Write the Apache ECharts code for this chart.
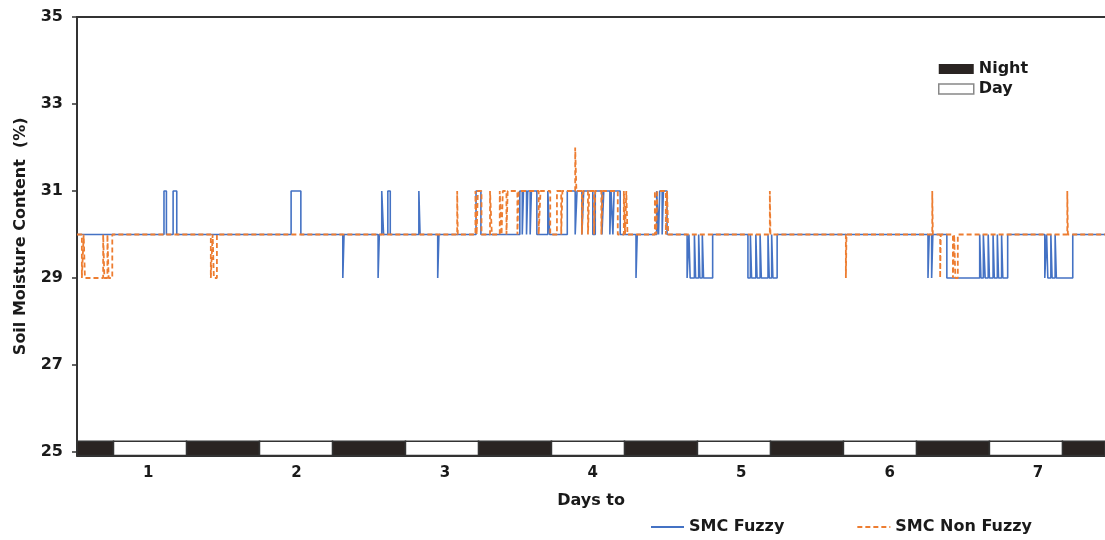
<!DOCTYPE html>
<html>
<head>
<meta charset="utf-8">
<script src="https://cdn.jsdelivr.net/npm/echarts@6/dist/echarts.min.js"></script>
<style>html,body{margin:0;padding:0;background:#fff}#c{width:1105px;height:540px}</style>
</head>
<body>
<div id="c"></div>
<script>
// ---- data (hours from start of day 1; value = soil moisture %) ----
const fuzzyHours = [0,14.3,14.7,15.8,16.4,35.2,36.8,43.7,43.9,49.5,49.7,50.1,50.4,51.1,51.5,56.2,56.4,59.3,59.5,65.6,66.4,
  72.8,73.2,73.4,73.9,74.1,74.5,74.7,75.6,77.4,77.7,
  80.6,81.9,82.2,83.0,83.3,84.8,85.2,86.3,86.6,87.6,87.8,88.1,88.3,89.3,
  91.9,92.1,95.3,95.6,95.8,96.2,96.4,97.0,
  100.3,100.6,100.8,101.5,101.7,102.2,102.4,102.8,103.0,104.5,
  110.3,110.7,110.9,111.6,111.8,112.3,112.5,113.6,113.8,114.2,114.4,115.1,
  139.9,140.1,140.5,140.7,
  143.0,148.4,148.6,149.0,149.3,149.8,150.0,150.6,150.8,151.3,151.5,152.0,152.2,153.0,
  159.1,159.4,159.6,160.1,160.3,160.8,161.0,163.7,169];
const fuzzyValues = [30,31,30,31,30,31,30,29,30,29,30,31,30,31,30,31,30,29,30,31,30,
  31,30,31,30,31,30,31,30,31,30,
  31,30,31,30,31,30,31,30,31,30,31,30,31,30,
  29,30,31,30,31,30,31,30,
  29,30,29,30,29,30,29,30,29,30,
  29,30,29,30,29,30,29,30,29,30,29,30,
  29,30,29,30,
  29,30,29,30,29,30,29,30,29,30,29,30,29,30,
  29,30,29,30,29,30,29,30,30];

const nonFuzzyHours = [0,0.8,1.1,1.3,4.3,4.5,5.0,5.2,5.8,22.0,22.3,22.5,23.0,
  62.5,62.6,65.5,65.7,65.9,66.5,67.9,68.2,
  69.5,69.8,70.0,70.6,70.8,72.4,72.6,75.9,76.2,77.8,
  78.9,79.6,79.8,81.9,82.1,83.0,83.2,84.0,84.2,85.0,85.2,86.2,86.4,88.9,89.9,90.1,90.3,90.5,
  95.0,95.2,95.4,96.8,97.0,97.2,
  113.9,114.0,126.4,126.5,140.6,140.7,141.9,142.0,144.0,144.2,144.4,144.8,162.8,162.9,169];
const nonFuzzyValues = [30,29,30,29,30,29,30,29,30,29,30,29,30,
  31,30,31,30,31,30,31,30,
  31,30,31,30,31,30,31,30,31,30,
  31,30,31,32,31,30,31,30,31,30,31,30,31,30,31,30,31,30,
  31,30,31,30,31,30,
  31,30,29,30,31,30,29,30,29,30,29,30,31,30,30];

const nightSpans = [[0,6],[18,30],[42,54],[66,78],[90,102],[114,126],[138,150],[162,169]];
const daySpans = [[6,18],[30,42],[54,66],[78,90],[102,114],[126,138],[150,162]];

const dayLabels = ['1','2','3','4','5','6','7'];
const dayLabelHours = [11.7,36.1,60.5,84.8,109.2,133.6,158.0];
const yTicks = [25,27,29,31,33,35];

// ---- chart ----
const FONT = 'DejaVu Sans';
const BLUE = '#4472C4', ORANGE = '#ED7D31', NIGHT = '#2a2422';
const pair = (xs, ys) => xs.map((x, i) => [x, ys[i]]);

function stripRender(fill) {
  return function (params, api) {
    const p0 = api.coord([api.value(0), 25.25]);
    const p1 = api.coord([api.value(1), 24.92]);
    return {
      type: 'rect',
      shape: { x: p0[0], y: p0[1], width: p1[0] - p0[0], height: p1[1] - p0[1] },
      style: { fill: fill, stroke: '#333', lineWidth: 1.5 }
    };
  };
}

const chart = echarts.init(document.getElementById('c'), null, { renderer: 'canvas' });
chart.setOption({
  animation: false,
  backgroundColor: '#fff',
  textStyle: { fontFamily: FONT },
  grid: { left: 77, right: 0, top: 17, bottom: 84.5, containLabel: false },
  legend: [
    {
      orient: 'vertical', left: 933, top: 56, itemWidth: 35, itemHeight: 10, itemGap: 4,
      textStyle: { fontFamily: FONT, fontWeight: 'bold', fontSize: 16, color: '#1a1a1a' },
      data: [
        { name: 'Night', icon: 'rect', itemStyle: { color: NIGHT, borderColor: NIGHT } },
        { name: 'Day', icon: 'rect', itemStyle: { color: '#fff', borderColor: '#888', borderWidth: 1.5 } }
      ]
    },
    {
      orient: 'horizontal', left: 645, top: 514, itemWidth: 33, itemHeight: 14, itemGap: 72,
      itemStyle: { opacity: 0 },
      textStyle: { fontFamily: FONT, fontWeight: 'bold', fontSize: 16, color: '#1a1a1a' },
      data: ['SMC Fuzzy', 'SMC Non Fuzzy']
    }
  ],
  xAxis: [
    {
      type: 'value', min: 0, max: 169, position: 'bottom',
      name: 'Days to', nameLocation: 'middle', nameGap: 37,
      nameTextStyle: { fontFamily: FONT, fontWeight: 'bold', fontSize: 16, color: '#1a1a1a' },
      axisLine: { show: true, lineStyle: { color: '#333', width: 2 } },
      axisTick: { show: false },
      splitLine: { show: false },
      axisLabel: {
        customValues: dayLabelHours, margin: 10,
        fontFamily: FONT, fontWeight: 'bold', fontSize: 15, color: '#1a1a1a',
        formatter: function (v) {
          const i = dayLabelHours.findIndex(h => Math.abs(h - v) < 0.01);
          return i >= 0 ? dayLabels[i] : '';
        }
      }
    },
    {
      type: 'value', min: 0, max: 169, position: 'top',
      axisLine: { show: true, onZero: false, lineStyle: { color: '#333', width: 2 } },
      axisTick: { show: false }, axisLabel: { show: false }, splitLine: { show: false }
    }
  ],
  yAxis: {
    type: 'value', min: 24.92, max: 35,
    name: 'Soil Moisture Content  (%)', nameLocation: 'middle', nameGap: 48,
    nameTextStyle: { fontFamily: FONT, fontWeight: 'bold', fontSize: 16, color: '#1a1a1a' },
    axisLine: { show: true, lineStyle: { color: '#333', width: 2 } },
    axisTick: { show: true, customValues: yTicks, length: 5, lineStyle: { color: '#333', width: 1.5 } },
    splitLine: { show: false },
    axisLabel: {
      customValues: yTicks, margin: 14,
      fontFamily: FONT, fontWeight: 'bold', fontSize: 16, color: '#1a1a1a'
    }
  },
  series: [
    {
      name: 'Night', type: 'custom', renderItem: stripRender(NIGHT),
      itemStyle: { color: NIGHT }, encode: { x: [0, 1] }, data: nightSpans, z: 5
    },
    {
      name: 'Day', type: 'custom', renderItem: stripRender('#fff'),
      itemStyle: { color: '#fff' }, encode: { x: [0, 1] }, data: daySpans, z: 5
    },
    {
      name: 'SMC Fuzzy', type: 'line', step: 'end', symbol: 'none', showSymbol: false,
      data: pair(fuzzyHours, fuzzyValues),
      itemStyle: { color: BLUE },
      lineStyle: { color: BLUE, width: 1.6 }, z: 3
    },
    {
      name: 'SMC Non Fuzzy', type: 'line', step: 'end', symbol: 'none', showSymbol: false,
      data: pair(nonFuzzyHours, nonFuzzyValues),
      itemStyle: { color: ORANGE },
      lineStyle: { color: ORANGE, width: 1.8, type: [5, 3] }, z: 4
    }
  ]
});
</script>
</body>
</html>
